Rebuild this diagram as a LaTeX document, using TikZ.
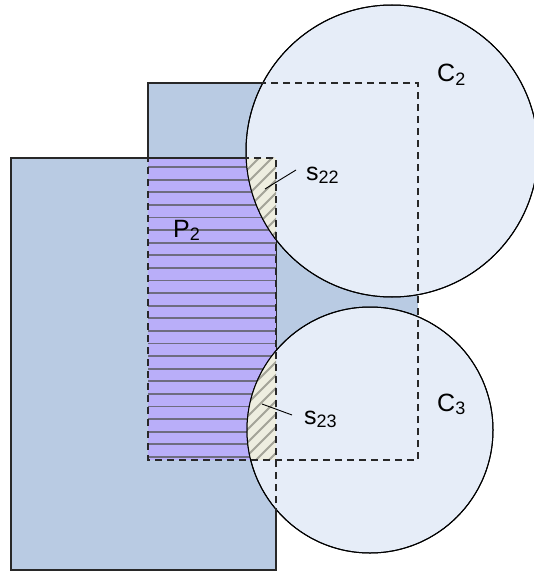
\documentclass[tikz,border=0pt]{standalone}
\usepackage{fontspec}
\setmainfont{Liberation Sans}
\definecolor{bluefill}{HTML}{B9CBE3}
\definecolor{circfill}{HTML}{E6EDF8}
\definecolor{purpfill}{HTML}{B9AEF9}
\definecolor{beigefill}{HTML}{EEEEE0}
\definecolor{hlinecol}{HTML}{6E6C80}
\definecolor{hatchcol}{HTML}{A4A498}
\definecolor{edgecol}{HTML}{282828}
\tikzset{
  edge/.style={draw=edgecol, line width=1.2pt},
  dashedge/.style={draw=edgecol, line width=1.2pt, dash pattern=on 7pt off 5pt},
  hline/.style={draw=hlinecol, line width=1.8pt},
  hatchline/.style={draw=hatchcol, line width=1.8pt},
  circedge/.style={draw=black, line width=1pt},
  lab/.style={anchor=base west, inner sep=0pt, font=\fontsize{25}{25}\selectfont},
  leader/.style={draw=black, line width=0.9pt}
}
\newcommand{\subtxt}[1]{\raisebox{-3.5pt}{\fontsize{18}{18}\selectfont #1}}
\begin{document}
\begin{tikzpicture}[x=1pt,y=-1pt]
\useasboundingbox (0,0) rectangle (534,572);
\clip (0,0) rectangle (534,572);
% rectangle A (upper)
\fill[bluefill] (148,83) rectangle (418,460);
\draw[edge] (148,460) -- (148,83) -- (418,83);
% rectangle B (lower left)
\filldraw[fill=bluefill, edge] (11,158) rectangle (276,570);
% intersection region P2
\fill[purpfill] (148,158) rectangle (276,460);
\foreach \k in {0,...,23} \draw[hline] (148,{167+12.6*\k}) -- (276,{167+12.6*\k});
\draw[edge] (11,158) -- (276,158);
% circles
\filldraw[fill=circfill, circedge] (392,151) circle (146pt);
\filldraw[fill=circfill, circedge] (370,430) circle (123pt);
% hatched regions s22 and s23
\begin{scope}
  \clip (148,158) rectangle (276,460);
  \clip (392,151) circle (146pt);
  \fill[beigefill] (148,158) rectangle (276,460);
  \foreach \c in {300,313,...,750} \draw[hatchline] (\c,0) -- ++(-600,600);
\end{scope}
\begin{scope}
  \clip (148,158) rectangle (276,460);
  \clip (370,430) circle (123pt);
  \fill[beigefill] (148,158) rectangle (276,460);
  \foreach \c in {300,313,...,750} \draw[hatchline] (\c,0) -- ++(-600,600);
\end{scope}
\draw[circedge] (392,151) circle (146pt);
\draw[circedge] (370,430) circle (123pt);
% dashed outlines
\draw[dashedge] (148,83) rectangle (418,460);
\draw[dashedge] (11,158) rectangle (276,570);
% labels
\node[lab] (c2) at (437,82) {C\subtxt{2}};
\node[lab] (c3) at (437,411) {C\subtxt{3}};
\node[lab] (p2) at (173,237) {P\subtxt{2}};
\node[lab] (s22) at (306,180) {s\subtxt{22}};
\node[lab] (s23) at (304,424) {s\subtxt{23}};
% leader lines
\coordinate (l22a) at (296,170);
\coordinate (l22b) at (265,189);
\coordinate (l23a) at (262,404);
\coordinate (l23b) at (292,415);
\draw[leader] (l22a) -- (l22b);
\draw[leader] (l23a) -- (l23b);
\end{tikzpicture}
\end{document}
